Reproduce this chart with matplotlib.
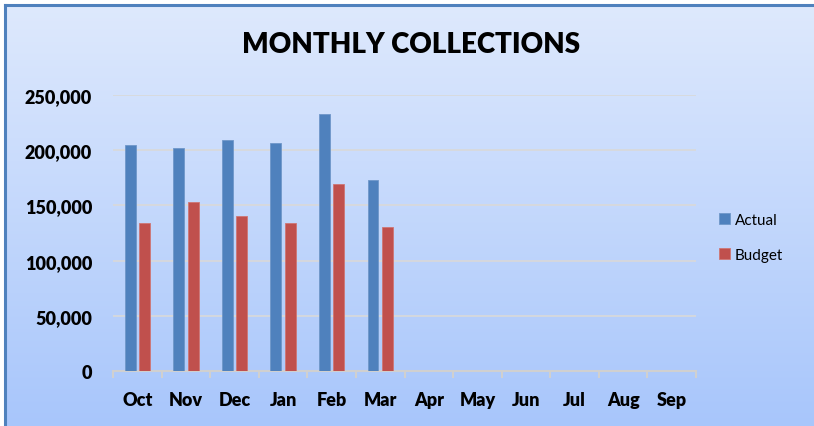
import numpy as np
import matplotlib
matplotlib.use('Agg')
import matplotlib.pyplot as plt
from matplotlib.ticker import FuncFormatter, MultipleLocator

months = ['Oct', 'Nov', 'Dec', 'Jan', 'Feb', 'Mar',
          'Apr', 'May', 'Jun', 'Jul', 'Aug', 'Sep']
actual = [204200, 202100, 209300, 206300, 232500, 172900]
budget = [134300, 153300, 140400, 134000, 169000, 130700]

plt.rcParams['font.family'] = ['Lato', 'DejaVu Sans']

W, H = 814, 427
fig = plt.figure(figsize=(W / 100, H / 100), dpi=100)
fig.patch.set_facecolor('white')

# gradient background + blue frame (left/top)
bg = fig.add_axes([5 / W, 0, 1 - 5 / W, (H - 6) / H])
grad = np.linspace(0, 1, 256).reshape(-1, 1)
top = np.array([0xde, 0xe9, 0xfd]) / 255
bot = np.array([0xa8, 0xc6, 0xfb]) / 255
img = top + (bot - top) * grad[..., None]
bg.imshow(img, aspect='auto', extent=[0, 1, 0, 1], origin='upper')
bg.set_xlim(0, 1)
bg.set_ylim(0, 1)
bg.set_axis_off()
bg.plot([0, 1], [1, 1], color='#4f81bd', lw=2.2, transform=bg.transAxes, clip_on=False)
bg.plot([0, 0], [0, 1], color='#4f81bd', lw=2.2, transform=bg.transAxes, clip_on=False)

ax = fig.add_axes([113 / W, 54.7 / H, (696 - 113) / W, (372.3 - 95.7) / H])
ax.set_facecolor('none')

x = np.arange(len(months))
w = 0.225
ax.bar(x[:len(actual)] - 0.148, actual, w, color='#4f81bd', edgecolor='#6f97c9',
       lw=0.6, label='Actual', zorder=3)
ax.bar(x[:len(budget)] + 0.148, budget, w, color='#c0504d', edgecolor='#cf7674',
       lw=0.6, label='Budget', zorder=3)

ax.set_xlim(-0.5, len(months) - 0.5)
ax.set_ylim(0, 250000)
ax.yaxis.set_major_locator(MultipleLocator(50000))
ax.yaxis.set_major_formatter(FuncFormatter(lambda v, p: f"{int(v):,}"))
ax.grid(axis='y', color='#d9d9d9', lw=1.2, zorder=0)
ax.set_axisbelow(True)

for s in ['top', 'right', 'left']:
    ax.spines[s].set_visible(False)
ax.spines['bottom'].set_color('#d0d0d0')
ax.spines['bottom'].set_linewidth(1.5)

ax.set_xticks(x)
ax.set_xticklabels(months, fontsize=13, fontweight='heavy')
ax.set_xticks(np.arange(-0.5, len(months)), minor=True)
ax.tick_params(axis='x', which='major', length=0, pad=14)
ax.tick_params(axis='x', which='minor', length=5, width=1.5, color='#d0d0d0')
ax.tick_params(axis='y', length=0, pad=15, labelsize=13)
for lbl in ax.get_yticklabels():
    lbl.set_fontweight('heavy')

fig.text(411 / W, 1 - 45 / H, 'MONTHLY COLLECTIONS', ha='center', va='center',
         fontsize=20, fontweight='heavy')

fig.legend(loc='upper left', bbox_to_anchor=(719 / W, 1 - 214 / H), frameon=False,
           fontsize=11, handlelength=0.75, handleheight=0.75, handletextpad=0.3,
           labelspacing=1.35, borderpad=0, borderaxespad=0)

fig.savefig('out.png', dpi=100)
